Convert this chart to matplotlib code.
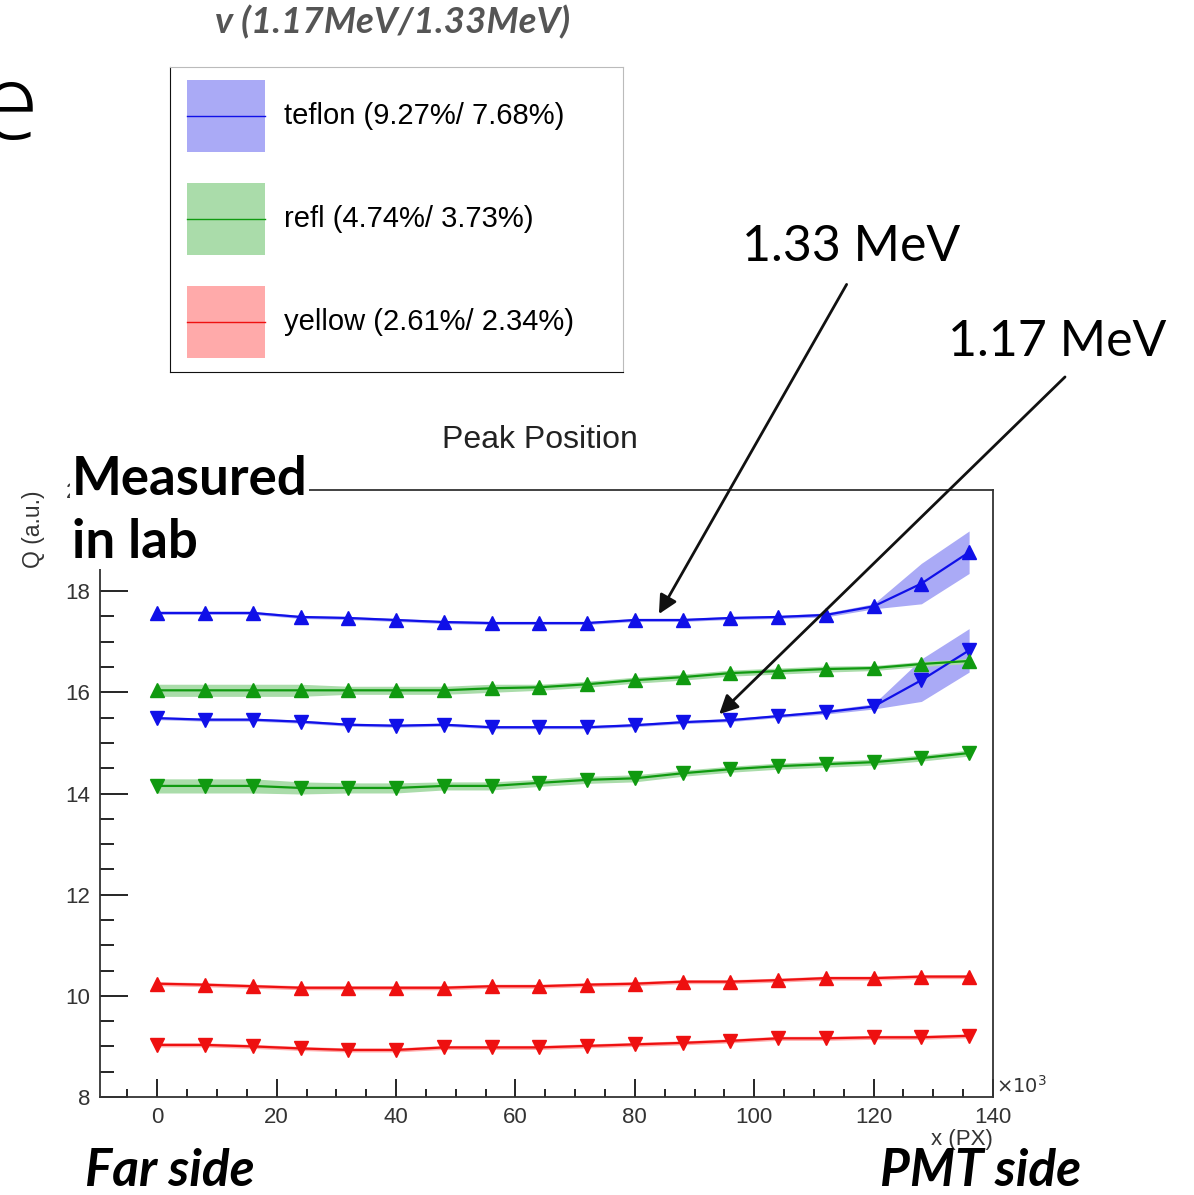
import matplotlib.pyplot as plt
import numpy as np
from matplotlib.patches import Rectangle
from matplotlib.lines import Line2D

# positions along the bar, x10^3 PX
pos = [0, 8, 16, 24, 32, 40, 48, 56, 64, 72, 80, 88, 96, 104, 112, 120, 128, 136]

# peak positions, Q (a.u.)
teflon_133 = [17.57, 17.57, 17.57, 17.49, 17.47, 17.43, 17.39, 17.37, 17.37, 17.37,
              17.43, 17.43, 17.47, 17.49, 17.53, 17.70, 18.15, 18.77]
teflon_117 = [15.49, 15.46, 15.46, 15.42, 15.36, 15.34, 15.36, 15.31, 15.31, 15.31,
              15.35, 15.41, 15.45, 15.53, 15.61, 15.72, 16.24, 16.83]
refl_133 = [16.04, 16.04, 16.04, 16.04, 16.04, 16.04, 16.04, 16.08, 16.10, 16.16,
            16.24, 16.30, 16.38, 16.42, 16.46, 16.48, 16.56, 16.62]
refl_117 = [14.15, 14.15, 14.15, 14.11, 14.11, 14.11, 14.15, 14.15, 14.21, 14.27,
            14.30, 14.40, 14.48, 14.54, 14.58, 14.62, 14.70, 14.80]
yellow_133 = [10.24, 10.22, 10.19, 10.16, 10.16, 10.16, 10.16, 10.19, 10.19, 10.22,
              10.24, 10.28, 10.28, 10.31, 10.35, 10.35, 10.38, 10.38]
yellow_117 = [9.03, 9.03, 9.00, 8.96, 8.93, 8.93, 8.98, 8.98, 8.98, 9.01,
              9.04, 9.07, 9.11, 9.16, 9.16, 9.18, 9.18, 9.21]

# band half widths
teflon_133_err = [0.03, 0.03, 0.03, 0.03, 0.03, 0.03, 0.03, 0.03, 0.03, 0.03,
                  0.03, 0.03, 0.03, 0.03, 0.04, 0.05, 0.40, 0.42]
teflon_117_err = [0.03, 0.03, 0.03, 0.03, 0.03, 0.03, 0.03, 0.03, 0.03, 0.03,
                  0.03, 0.03, 0.03, 0.03, 0.04, 0.05, 0.42, 0.43]
refl_133_err = [0.12, 0.12, 0.12, 0.12, 0.08, 0.08, 0.08, 0.08, 0.06, 0.06,
                0.06, 0.06, 0.06, 0.06, 0.06, 0.05, 0.05, 0.05]
refl_117_err = [0.14, 0.14, 0.14, 0.12, 0.10, 0.10, 0.08, 0.08, 0.07, 0.07,
                0.07, 0.06, 0.06, 0.06, 0.06, 0.06, 0.06, 0.06]
yellow_133_err = [0.04] * 18
yellow_117_err = [0.04] * 18

names = ['teflon (9.27%/ 7.68%)', 'refl (4.74%/ 3.73%)', 'yellow (2.61%/ 2.34%)']
line_cols = ['#1010e8', '#109a10', '#ee1010']
band_cols = ['#aaaaf6', '#aadcaa', '#ffaaaa']

W, H = 1194, 1195
fig = plt.figure(figsize=(W / 100, H / 100), dpi=100)


def fx(x):
    return x / W


def fy(y):
    return 1 - y / H


ax = fig.add_axes([fx(100), fy(1097), (993 - 100) / W, (1097 - 490) / H])
root_font = 'Liberation Sans'

series = [
    (teflon_133, teflon_133_err, teflon_117, teflon_117_err),
    (refl_133, refl_133_err, refl_117, refl_117_err),
    (yellow_133, yellow_133_err, yellow_117, yellow_117_err),
]
x = np.array(pos)
for (hi, hi_e, lo, lo_e), lc, bc in zip(series, line_cols, band_cols):
    for vals, errs, mk in [(hi, hi_e, '^'), (lo, lo_e, 'v')]:
        v = np.array(vals)
        e = np.array(errs)
        ax.fill_between(x, v - e, v + e, color=bc, lw=0, zorder=1)
        ax.plot(x, v, color=lc, lw=1.6, marker=mk, ms=10, mec=lc, mfc=lc, zorder=3)

ax.set_xlim(-9.6, 140)
ax.set_ylim(8, 20)
ax.set_xticks(np.arange(0, 141, 20))
ax.set_xticks(np.arange(-5, 140, 5), minor=True)
ax.set_yticks(np.arange(8, 21, 2))
ax.set_yticks(np.arange(8, 20.1, 0.5), minor=True)
ax.tick_params(which='both', direction='in', top=False, right=False,
               labelsize=16, labelcolor='#333333', pad=7)
ax.tick_params(axis='x', which='major', length=13, width=1.2)
ax.tick_params(axis='x', which='minor', length=6, width=1.2)
ax.tick_params(axis='y', which='major', length=20, width=1.2)
ax.tick_params(axis='y', which='minor', length=10, width=1.2)
for lab in ax.get_xticklabels() + ax.get_yticklabels():
    lab.set_fontfamily(root_font)
for sp in ax.spines.values():
    sp.set_color('#333333')
    sp.set_linewidth(1.3)

ax.set_ylabel('Q (a.u.)', loc='top', fontsize=16.5, color='#333333', family=root_font)
ax.yaxis.set_label_coords(-0.062, 1.0)
ax.set_xlabel('x (PX)', loc='right', fontsize=16, color='#333333', family=root_font)
ax.xaxis.set_label_coords(1.0, -0.052)
fig.text(fx(996), fy(1086), r'$\times10^{3}$', fontsize=14, color='#333333',
         ha='left', va='center', family=root_font)
fig.text(fx(540), fy(440), 'Peak Position', fontsize=23, color='#222222',
         ha='center', va='center', family=root_font)

# arrows pointing to the two peaks
ax.annotate('', xy=(83.8, 17.50), xycoords='data',
            xytext=(848, H - 282), textcoords='figure pixels',
            arrowprops=dict(arrowstyle='-|>', color='#111111', lw=2, mutation_scale=28),
            annotation_clip=False)
ax.annotate('', xy=(93.8, 15.53), xycoords='data',
            xytext=(1067, H - 375), textcoords='figure pixels',
            arrowprops=dict(arrowstyle='-|>', color='#111111', lw=2, mutation_scale=28),
            annotation_clip=False)
fig.text(fx(851), fy(247), '1.33 MeV', fontsize=36, family='Lato', ha='center', va='center')
fig.text(fx(1057), fy(342), '1.17 MeV', fontsize=36, family='Lato', ha='center', va='center')

# slide texts
fig.text(fx(72), fy(567), 'Measured\nin lab', fontsize=38, family='Lato', weight='bold',
         ha='left', va='bottom', linespacing=1.35,
         bbox=dict(facecolor='white', edgecolor='none', pad=1))
fig.text(fx(85), fy(1172), 'Far side', fontsize=37, family='Lato', weight='bold',
         style='italic', ha='left', va='center')
fig.text(fx(880), fy(1172), 'PMT side', fontsize=37, family='Lato', weight='bold',
         style='italic', ha='left', va='center')
fig.text(fx(-19), fy(112), 'e', fontsize=76, family='Open Sans', weight='light',
         ha='left', va='center')

# legend
fig.text(fx(393), fy(22), 'v (1.17MeV/1.33MeV)', fontsize=26.5, family='Lato',
         weight='bold', style='italic', color='#555555', ha='center', va='center')
lax = fig.add_axes([fx(170), fy(372), (623 - 170) / W, (372 - 67) / H])
lax.set_xlim(0, 453)
lax.set_ylim(305, 0)
lax.set_xticks([])
lax.set_yticks([])
lax.spines['top'].set_color('#bbbbbb')
lax.spines['right'].set_color('#bbbbbb')
lax.spines['left'].set_color('#111111')
lax.spines['bottom'].set_color('#111111')
for i, (nm, lc, bc) in enumerate(zip(names, line_cols, band_cols)):
    yc = 49 + i * 103
    lax.add_patch(Rectangle((17, yc - 36), 78, 72, color=bc, lw=0))
    lax.add_line(Line2D([17, 95], [yc, yc], color=lc, lw=1))
    lax.text(114, yc, nm, fontsize=21, family=root_font, va='center', ha='left')

fig.savefig('out.png', dpi=100)
